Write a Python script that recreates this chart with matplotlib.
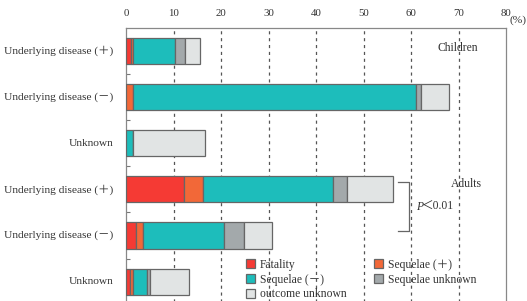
import matplotlib
matplotlib.use('Agg')
import matplotlib.pyplot as plt
from matplotlib.patches import Patch

plt.rcParams['font.family'] = ['Liberation Serif', 'Noto Sans CJK JP']

# rows from top to bottom
row_labels = ['Underlying disease (＋)', 'Underlying disease (－)', 'Unknown',
              'Underlying disease (＋)', 'Underlying disease (－)', 'Unknown']
fatality = [1.0, 0.0, 0.0, 12.3, 2.0, 0.9]
sequelae_pos = [0.5, 1.55, 0.0, 3.9, 1.65, 0.5]
sequelae_neg = [8.9, 59.55, 1.55, 27.4, 17.05, 2.95]
sequelae_unk = [2.0, 1.1, 0.0, 2.9, 4.1, 0.65]
outcome_unk = [3.2, 5.7, 15.05, 9.7, 5.9, 8.2]

series_names = ['Fatality', 'Sequelae (＋)', 'Sequelae (－)',
                'Sequelae unknown', 'outcome unknown']
colors = ['#f53a34', '#f26838', '#1dbdbb', '#a3a9ab', '#e1e4e4']
x_ticks = [0, 10, 20, 30, 40, 50, 60, 70, 80]

text_color = '#333333'
edge = '#666666'

fig = plt.figure(figsize=(5.27, 3.01), dpi=100)
ax = fig.add_axes([0.2391, -0.005, 0.7211, 0.913])

series = [fatality, sequelae_pos, sequelae_neg, sequelae_unk, outcome_unk]
ypos = list(range(len(row_labels)))
left = [0.0] * len(row_labels)
for vals, col, name in zip(series, colors, series_names):
    ax.barh(ypos, vals, left=left, height=0.565, color=col,
            edgecolor=edge, linewidth=0.9, zorder=3, label=name)
    left = [l + v for l, v in zip(left, vals)]

ax.set_xlim(0, 80)
ax.set_ylim(5.45, -0.5)

for xv in x_ticks[1:-1]:
    ax.axvline(xv, color='#555555', linestyle=(0, (2.5, 3)), linewidth=0.9, zorder=1)

ax.xaxis.tick_top()
ax.set_xticks(x_ticks)
ax.tick_params(axis='x', length=0, pad=7, labelsize=7.8, labelcolor=text_color)

ax.set_yticks([i + 0.5 for i in range(5)])
ax.set_yticklabels([])
ax.tick_params(axis='y', direction='in', length=3, color='#777777')
for i, lab in enumerate(row_labels):
    ax.text(-0.034, i, lab, transform=ax.get_yaxis_transform(), ha='right',
            va='center', fontsize=8.2, color=text_color)

for s in ['top', 'left', 'right']:
    ax.spines[s].set_color('#888888')
    ax.spines[s].set_linewidth(0.9)
ax.spines['bottom'].set_visible(False)

fig.text(509 / 527, 1 - 20 / 301, '(%)', ha='left', va='center', fontsize=8.2,
         color=text_color)

ax.text(69.85, -0.06, 'Children', ha='center', va='center', fontsize=8.4, color=text_color)
ax.text(71.6, 2.894, 'Adults', ha='center', va='center', fontsize=8.4, color=text_color)
ax.text(61.0, 3.38, 'P', ha='left', va='center', fontsize=8.4, color=text_color,
        fontstyle='italic', family='Liberation Serif')
ax.text(62.3, 3.38, '＜0.01', ha='left', va='center', fontsize=8.4, color=text_color)
ax.plot([57.3, 59.5, 59.5, 57.3], [2.844, 2.844, 3.911, 3.911], color='#666666',
        linewidth=0.9, zorder=4, clip_on=False)

order = [0, 2, 4, 1, 3]
handles = [Patch(facecolor=colors[i], edgecolor=edge, linewidth=0.9) for i in order]
labels = [series_names[i] for i in order]
leg = fig.legend(handles, labels, loc='upper left',
                 bbox_to_anchor=(246 / 527, 1 - 259 / 301), ncol=2, frameon=False,
                 fontsize=8.4, handlelength=0.8, handleheight=0.8, handletextpad=0.4,
                 columnspacing=2.3, labelspacing=0.22, borderpad=0, borderaxespad=0)
for t in leg.get_texts():
    t.set_color(text_color)

fig.savefig('out.png', dpi=100)
